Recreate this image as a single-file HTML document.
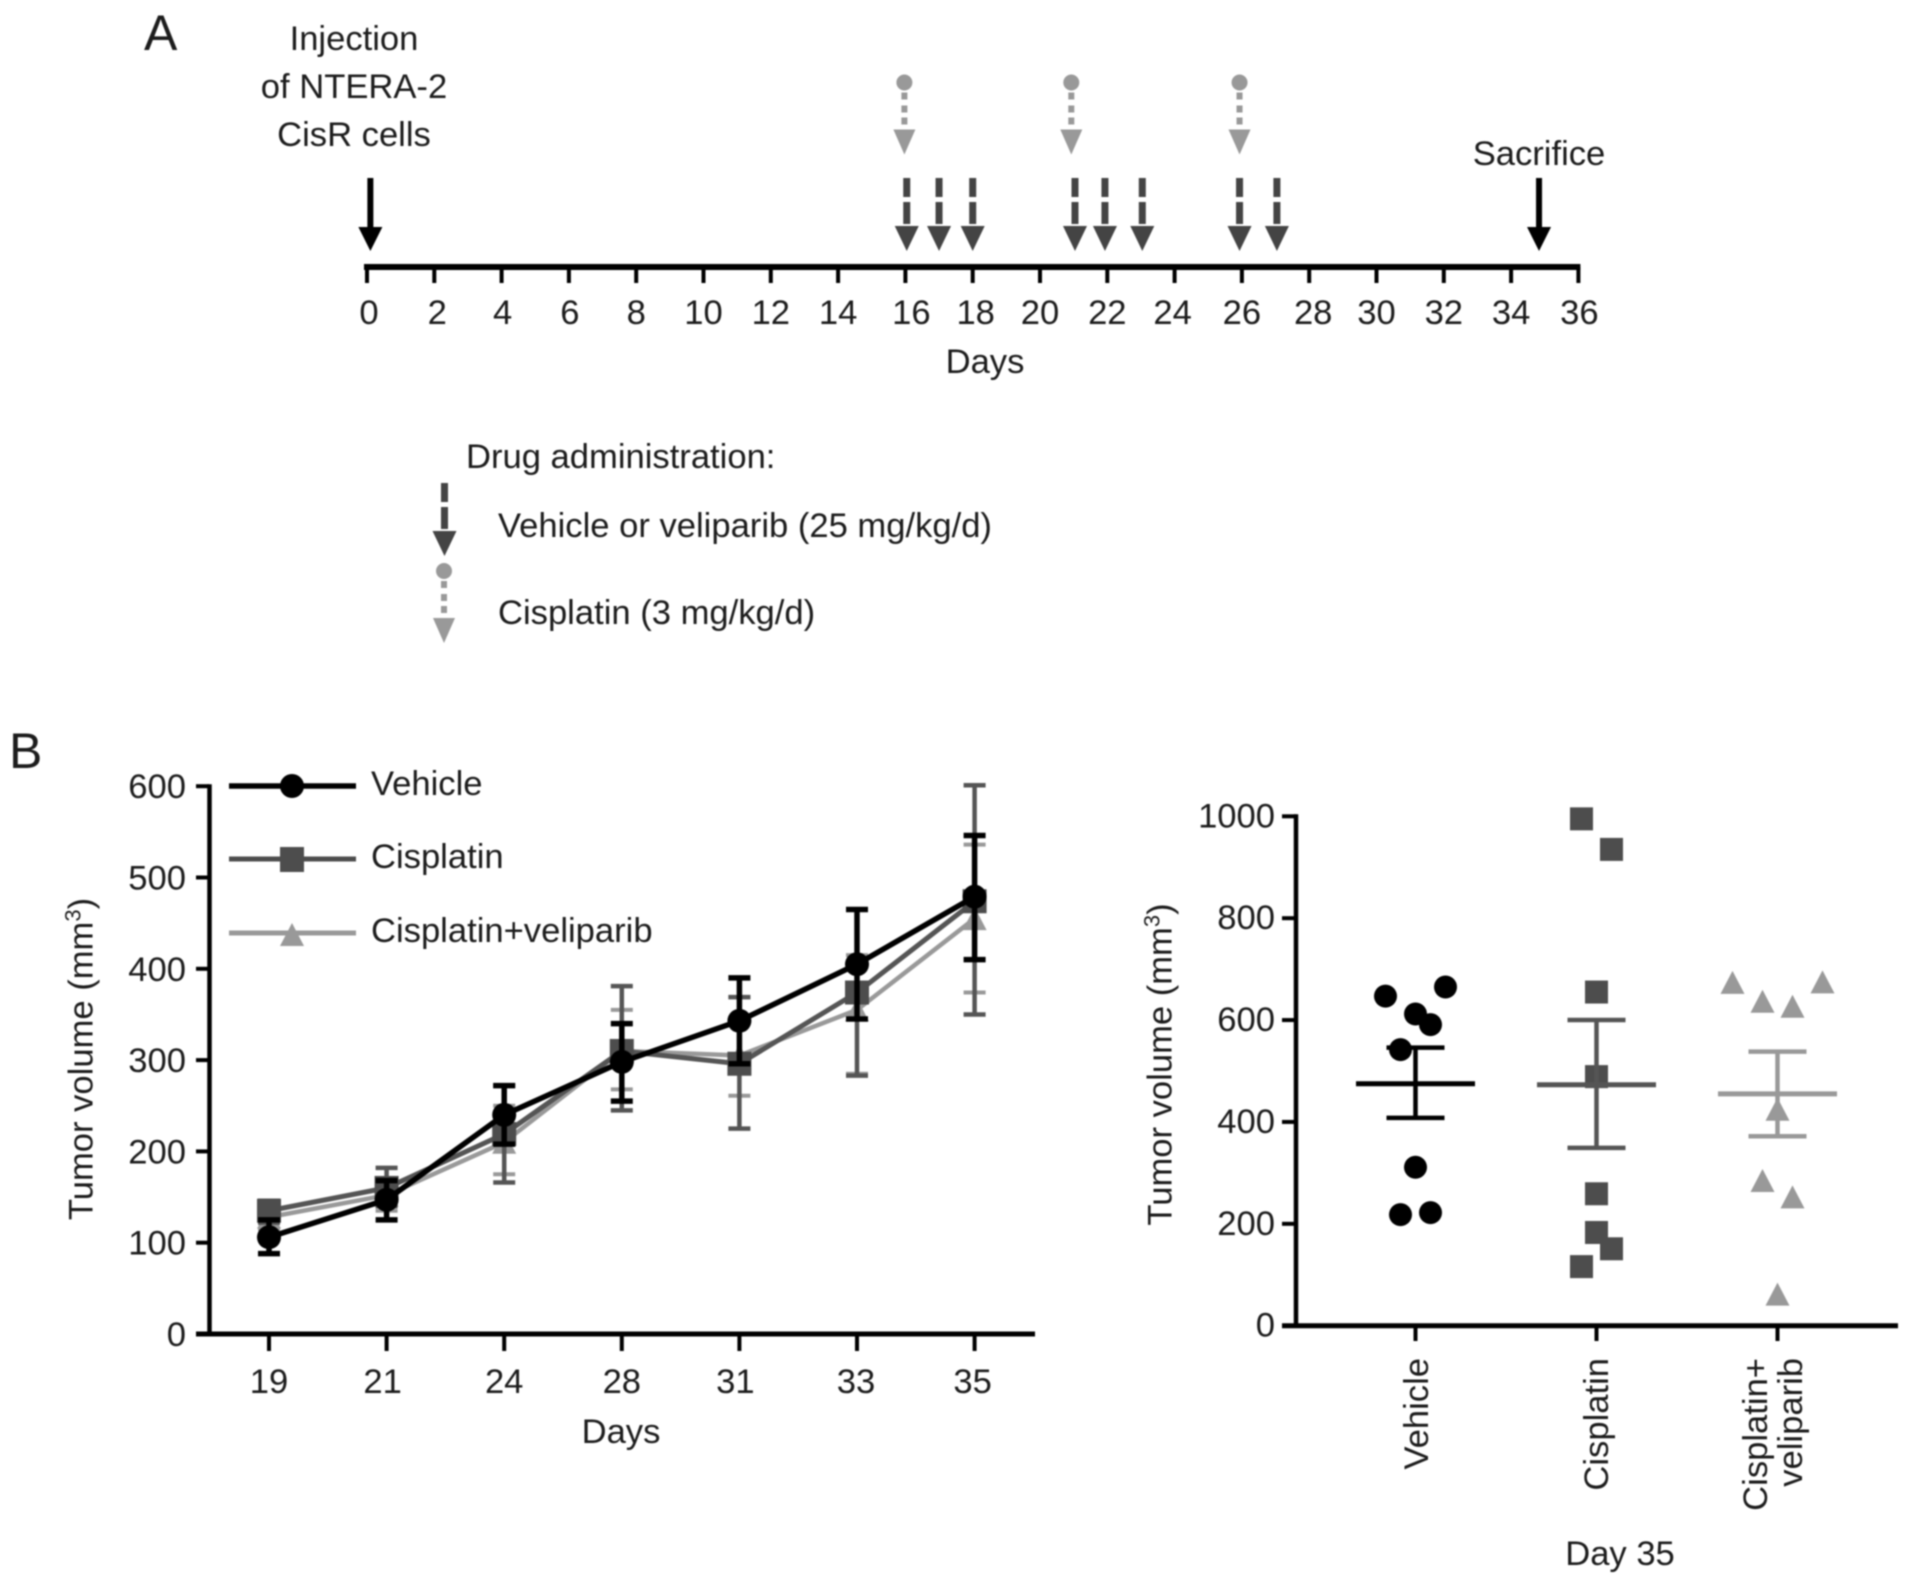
<!DOCTYPE html>
<html lang="en">
<head>
<meta charset="utf-8">
<title>Tumor volume study timeline and results</title>
<style>
html,body{margin:0;padding:0;background:#fff;}
svg{display:block;filter:blur(0.9px);}
text{font-family:"Liberation Sans",Arial,sans-serif;font-size:34.6px;fill:#1c1c1c;}
</style>
</head>
<body>
<svg id="figure" xmlns="http://www.w3.org/2000/svg" width="1913" height="1585" viewBox="0 0 1913 1585">
  <rect x="0" y="0" width="1913" height="1585" fill="#fff"/>

  <g id="panel-a">
    <text x="144" y="50" style="font-size:50px">A</text>
    <text x="354" y="50" text-anchor="middle">Injection</text>
    <text x="354" y="98" text-anchor="middle">of NTERA-2</text>
    <text x="354" y="146" text-anchor="middle">CisR cells</text>
    <text x="1539" y="165" text-anchor="middle">Sacrifice</text>
    <text x="985" y="373" text-anchor="middle">Days</text>
    <text x="466" y="468">Drug administration:</text>
    <text x="498" y="537">Vehicle or veliparib (25 mg/kg/d)</text>
    <text x="498" y="624">Cisplatin (3 mg/kg/d)</text>
  </g>

  <g id="panel-b-line">
    <text x="9" y="768" style="font-size:50px">B</text>
    <text transform="translate(92.5,1059) rotate(-90)" text-anchor="middle">Tumor volume (mm<tspan dy="-12" style="font-size:22px">3</tspan><tspan dy="12">)</tspan></text>
    <text x="621" y="1443" text-anchor="middle">Days</text>
    <g>
      <line x1="229" y1="786" x2="356" y2="786" stroke="#000" stroke-width="5.5"/>
      <circle cx="292" cy="786" r="12" fill="#000"/>
      <text x="371" y="795">Vehicle</text>
      <line x1="229" y1="859" x2="356" y2="859" stroke="#4d4d4d" stroke-width="5"/>
      <rect x="280" y="847" width="24" height="25" fill="#4d4d4d"/>
      <text x="371" y="868">Cisplatin</text>
      <line x1="229" y1="933" x2="356" y2="933" stroke="#999" stroke-width="5"/>
      <polygon points="292,923 304,946 280,946" fill="#999"/>
      <text x="371" y="942">Cisplatin+veliparib</text>
    </g>
  </g>

  <g id="panel-b-scatter">
    <text transform="translate(1171.5,1064.5) rotate(-90)" text-anchor="middle">Tumor volume (mm<tspan dy="-12" style="font-size:22px">3</tspan><tspan dy="12">)</tspan></text>
    <text transform="translate(1428,1358) rotate(-90)" text-anchor="end">Vehicle</text>
    <text transform="translate(1608,1358) rotate(-90)" text-anchor="end">Cisplatin</text>
    <text transform="translate(1767,1358) rotate(-90)" text-anchor="end">Cisplatin+</text>
    <text transform="translate(1802,1358) rotate(-90)" text-anchor="end">veliparib</text>
    <text x="1620" y="1565" text-anchor="middle">Day 35</text>
  </g>
</svg>

<script>
/* ---------- Panel A data ---------- */
const timelineTicks = [0,2,4,6,8,10,12,14,16,18,20,22,24,26,28,30,32,34,36];
const vehicleDoseDays = [16.04,17,18,21.04,21.93,23.04,25.93,27.04];
const cisplatinDoseDays = [15.97,20.93,25.93];
const injectionDay = 0.1;
const sacrificeDay = 34.83;

/* ---------- Panel B line chart data ---------- */
const growthDays = ['19','21','24','28','31','33','35'];
const growthTicks = [0,100,200,300,400,500,600];
const vehicleMean  = [106,147,240,298,343,405,479];
const vehicleUpper = [125,168,272,340,390,465,546];
const vehicleLower = [88,125,208,255,296,345,410];
const cisplatinMean  = [135,160,219,310,296,374,474];
const cisplatinUpper = [146,182,272,381,369,465,601];
const cisplatinLower = [122,140,166,245,225,283,350];
const comboMean  = [128,152,210,310,305,355,455];
const comboUpper = [138,170,250,355,369,415,536];
const comboLower = [115,135,175,268,261,285,374];

/* ---------- Panel B scatter data ---------- */
const scatterTicks = [0,200,400,600,800,1000];
const vehiclePoints = [647,665,612,591,542,311,218,222];
const vehicleSlots  = [-2,2,0,1,-1,0,-1,1];
const cisplatinPoints = [995,935,655,489,259,183,151,116];
const cisplatinSlots  = [-1,1,0,0,0,0,1,-1];
const comboPoints = [674,675,637,627,425,285,253,62];
const comboSlots  = [-3,3,-1,1,0,-1,1,0];
const scatterMeans = [475,473,455];
const scatterUppers = [546,600,538];
const scatterLowers = [408,349,372];

/* ---------- Helpers ---------- */
const NS = 'http://www.w3.org/2000/svg';
const INK = '#000', DARK = '#4d4d4d', LIGHT = '#999';
function el(tag, attrs, parent){
  const n = document.createElementNS(NS, tag);
  for (const k in attrs) n.setAttribute(k, attrs[k]);
  parent.appendChild(n);
  return n;
}
function trianglePoints(x, y, halfW, halfH){
  return x + ',' + (y - halfH) + ' ' + (x + halfW) + ',' + (y + halfH) + ' ' + (x - halfW) + ',' + (y + halfH);
}

/* ---------- Panel A ---------- */
const panelA = document.getElementById('panel-a');
const dayX = d => 367 + 33.65 * d;
const timelineY = 267;
const labelNudge = {0:2, 2:3, 4:1, 6:1, 16:6, 18:3, 24:-2, 28:4, 36:1};

const timelineAxis = el('line', {x1:364, y1:timelineY, x2:dayX(36) + 2, y2:timelineY, stroke:INK, 'stroke-width':6}, panelA);



timelineTicks.forEach(d => {
  const tick = el('line', {x1:dayX(d), y1:timelineY, x2:dayX(d), y2:283, stroke:INK, 'stroke-width':4}, panelA);
  
  
  const label = el('text', {x:dayX(d) + (labelNudge[d] || 0), y:324, 'text-anchor':'middle'}, panelA);
  label.textContent = d;
  
  
});

function solidArrow(x){
  const g = el('g', {}, panelA);
  el('rect', {x:x - 3, y:178, width:6, height:52, fill:INK}, g);
  el('polygon', {points:(x - 12) + ',227 ' + (x + 12) + ',227 ' + x + ',251', fill:INK}, g);
  return g;
}
const injectionArrow = solidArrow(dayX(injectionDay));


const sacrificeArrow = solidArrow(dayX(sacrificeDay));



function dashedArrow(x, top){
  const g = el('g', {}, panelA);
  el('rect', {x:x - 3.5, y:top, width:7, height:19, fill:'#444'}, g);
  el('rect', {x:x - 3.5, y:top + 24, width:7, height:22, fill:'#444'}, g);
  el('polygon', {points:(x - 12) + ',' + (top + 48) + ' ' + (x + 12) + ',' + (top + 48) + ' ' + x + ',' + (top + 73), fill:'#444'}, g);
  return g;
}
function dottedArrow(x, top){
  const g = el('g', {}, panelA);
  el('circle', {cx:x, cy:top, r:8, fill:LIGHT}, g);
  [13, 26, 38].forEach(off => el('rect', {x:x - 3, y:top + off - 3, width:6, height:7, fill:LIGHT}, g));
  el('polygon', {points:(x - 11) + ',' + (top + 47) + ' ' + (x + 11) + ',' + (top + 47) + ' ' + x + ',' + (top + 72), fill:LIGHT}, g);
  return g;
}
vehicleDoseDays.forEach(d => {
  const a = dashedArrow(dayX(d), 178);
  
  
});
cisplatinDoseDays.forEach(d => {
  const a = dottedArrow(dayX(d), 82.5);
  
  
});
const legendDashed = dashedArrow(444.5, 483);


const legendDotted = dottedArrow(444, 571);



/* ---------- Panel B line chart ---------- */
const lineChart = document.getElementById('panel-b-line');
const growthX = i => 269 + 117.6 * i;
const growthY = v => 1334 - 0.913 * v;
const growthLabelNudge = [0, -4, 0, 0, -4, -1, -2];

const growthYAxis = el('line', {x1:209.5, y1:growthY(600) - 2, x2:209.5, y2:growthY(0) + 2, stroke:INK, 'stroke-width':4.5}, lineChart);


const growthXAxis = el('line', {x1:196, y1:growthY(0), x2:1035, y2:growthY(0), stroke:INK, 'stroke-width':5}, lineChart);



growthTicks.forEach(v => {
  const tick = el('line', {x1:196, y1:growthY(v), x2:209, y2:growthY(v), stroke:INK, 'stroke-width':4}, lineChart);
  
  
  const label = el('text', {x:186, y:growthY(v) + 12, 'text-anchor':'end'}, lineChart);
  label.textContent = v;
  
  
});
growthDays.forEach((day, i) => {
  const tick = el('line', {x1:growthX(i), y1:growthY(0), x2:growthX(i), y2:1351, stroke:INK, 'stroke-width':4}, lineChart);
  
  
  const label = el('text', {x:growthX(i) + growthLabelNudge[i], y:1393, 'text-anchor':'middle'}, lineChart);
  label.textContent = day;
  
  
});

function drawSeries(mean, upper, lower, color, barWidth, lineWidth, marker){
  const g = el('g', {}, lineChart);
  mean.forEach((m, i) => {
    const x = growthX(i);
    const bar = el('path', {
      d:'M' + x + ' ' + growthY(lower[i]) + 'V' + growthY(upper[i]) +
        'M' + (x - 11) + ' ' + growthY(upper[i]) + 'H' + (x + 11) +
        'M' + (x - 11) + ' ' + growthY(lower[i]) + 'H' + (x + 11),
      fill:'none', stroke:color, 'stroke-width':barWidth
    }, g);
    
    
  });
  const line = el('polyline', {
    points:mean.map((m, i) => growthX(i) + ',' + growthY(m)).join(' '),
    fill:'none', stroke:color, 'stroke-width':lineWidth, 'stroke-linejoin':'round'
  }, g);
  
  
  mean.forEach((m, i) => {
    const mk = marker(growthX(i), growthY(m), g);
    
    
  });
  return g;
}
const comboSeries = drawSeries(comboMean, comboUpper, comboLower, LIGHT, 4, 4.5,
  (x, y, g) => el('polygon', {points:trianglePoints(x, y, 12, 11.5), fill:LIGHT}, g));


const cisplatinSeries = drawSeries(cisplatinMean, cisplatinUpper, cisplatinLower, '#555', 4.5, 5,
  (x, y, g) => el('rect', {x:x - 12, y:y - 12, width:24, height:24, fill:DARK}, g));


const vehicleSeries = drawSeries(vehicleMean, vehicleUpper, vehicleLower, INK, 5.5, 5.5,
  (x, y, g) => el('circle', {cx:x, cy:y, r:12, fill:INK}, g));



/* ---------- Panel B scatter ---------- */
const scatter = document.getElementById('panel-b-scatter');
const groupX = i => 1415.5 + 181 * i;
const slotX = (i, slot) => groupX(i) + 15 * slot;
const scatterY = v => 1325.7 - 0.5094 * v;

const scatterYAxis = el('line', {x1:1296, y1:scatterY(1000) - 2, x2:1296, y2:scatterY(0), stroke:INK, 'stroke-width':4.5}, scatter);


const scatterXAxis = el('line', {x1:1282, y1:scatterY(0), x2:1898, y2:scatterY(0), stroke:INK, 'stroke-width':5}, scatter);



scatterTicks.forEach(v => {
  const tick = el('line', {x1:1282, y1:scatterY(v), x2:1296, y2:scatterY(v), stroke:INK, 'stroke-width':4}, scatter);
  
  
  const label = el('text', {x:1275, y:scatterY(v) + 11, 'text-anchor':'end'}, scatter);
  label.textContent = v;
  
  
});
scatterMeans.forEach((m, i) => {
  const tick = el('line', {x1:groupX(i), y1:scatterY(0), x2:groupX(i), y2:1341, stroke:INK, 'stroke-width':4}, scatter);
  
  
});

vehiclePoints.forEach((v, k) => {
  const p = el('circle', {cx:slotX(0, vehicleSlots[k]), cy:scatterY(v), r:11.5, fill:INK}, scatter);
  
  
});
cisplatinPoints.forEach((v, k) => {
  const p = el('rect', {x:slotX(1, cisplatinSlots[k]) - 11.5, y:scatterY(v) - 11.5, width:23, height:23, fill:DARK}, scatter);
  
  
});
comboPoints.forEach((v, k) => {
  const p = el('polygon', {points:trianglePoints(slotX(2, comboSlots[k]), scatterY(v), 12, 11.5), fill:LIGHT}, scatter);
  
  
});

const meanColors = [INK, '#555', LIGHT];
scatterMeans.forEach((m, i) => {
  const x = groupX(i);
  const whisker = el('path', {
    d:'M' + x + ' ' + scatterY(scatterLowers[i]) + 'V' + scatterY(scatterUppers[i]) +
      'M' + (x - 29) + ' ' + scatterY(scatterUppers[i]) + 'H' + (x + 29) +
      'M' + (x - 29) + ' ' + scatterY(scatterLowers[i]) + 'H' + (x + 29),
    fill:'none', stroke:meanColors[i], 'stroke-width':4.5
  }, scatter);
  
  
  const meanLine = el('line', {x1:x - 59.5, y1:scatterY(m), x2:x + 59.5, y2:scatterY(m), stroke:meanColors[i], 'stroke-width':5}, scatter);
  
  
});
</script>
</body>
</html>
